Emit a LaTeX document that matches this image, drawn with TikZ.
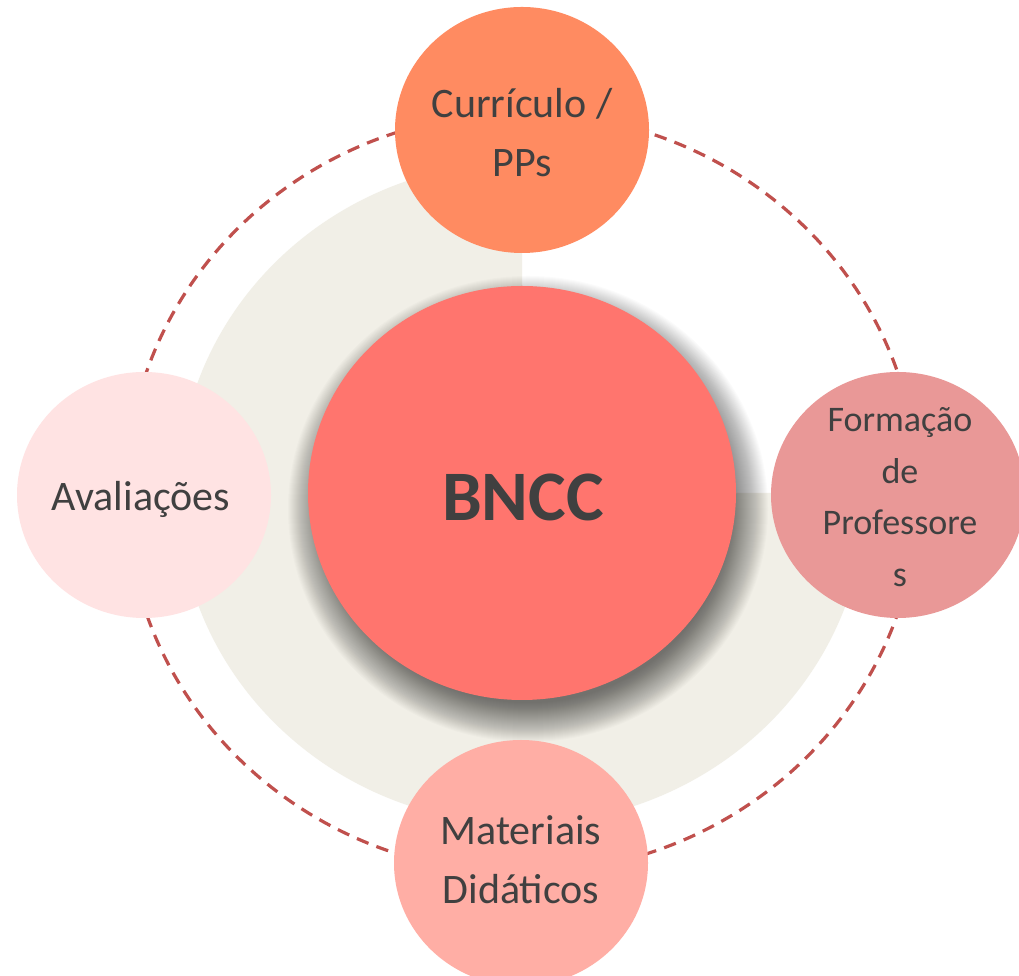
\documentclass[tikz,border=0pt]{standalone}
\usepackage{fontspec}
\setmainfont{Carlito}
\usetikzlibrary{shapes.geometric}
\definecolor{topcol}{HTML}{FF8B61}
\definecolor{bncccol}{HTML}{FF756E}
\definecolor{rightcol}{HTML}{E99897}
\definecolor{botcol}{HTML}{FFAEA5}
\definecolor{leftcol}{HTML}{FFE3E3}
\definecolor{beigecol}{HTML}{F1EFE7}
\definecolor{dashcol}{HTML}{C0504D}
\definecolor{txtcol}{HTML}{404040}
\tikzset{
  bubble/.style={ellipse, draw=none, inner sep=0pt, minimum width=254pt, minimum height=246pt},
  bubtext/.style={text=txtcol, align=center, inner sep=0pt, font=\fontsize{42}{59}\selectfont},
  smalltext/.style={text=txtcol, align=center, inner sep=0pt, font=\fontsize{36}{51.5}\selectfont},
  orbit/.style={draw=dashcol, line width=3.2pt, dash pattern=on 12.5pt off 8.5pt},
}
\begin{document}
\begin{tikzpicture}[x=1pt,y=1pt]
\fill[white] (0,0) rectangle (1019,976);
\useasboundingbox (0,0) rectangle (1019,976);
\coordinate (C) at (522,483);
\coordinate (S) at (528,467);
% dashed orbit
\draw[orbit] (C) ellipse [x radius=396, y radius=380];
% beige three-quarter disc
\fill[beigecol] (C) -- ++(0,331) arc[start angle=90, end angle=360, x radius=344, y radius=331] -- cycle;
% soft shadow of the centre circle
\foreach \i in {0,...,39} {
  \fill[black, opacity=0.016] (S) ellipse [x radius={240-\i}, y radius={233-\i}];
}
% centre
\node[ellipse, draw=none, fill=bncccol, inner sep=0pt, minimum width=428pt, minimum height=414pt] (bncc) at (C) {};
\node[text=txtcol, inner sep=0pt, font=\fontsize{71}{84}\selectfont\bfseries] (bncctext) at (523,479) {BNCC};
% satellites
\node[bubble, fill=topcol] (top) at (522,846) {};
\node[bubtext] (toptext) at (522,843) {Currículo /\\PPs};
\node[bubble, fill=rightcol] (right) at (898,481) {};
\node[smalltext] (righttext) at (900,479) {Formação\\de\\Professore\\s};
\node[bubble, fill=botcol] (bottom) at (521,113) {};
\node[bubtext] (bottext) at (521,116) {Materiais\\Didáticos};
\node[bubble, fill=leftcol] (left) at (144,481) {};
\node[bubtext] (lefttext) at (141,477) {Avaliações};
\end{tikzpicture}
\end{document}
